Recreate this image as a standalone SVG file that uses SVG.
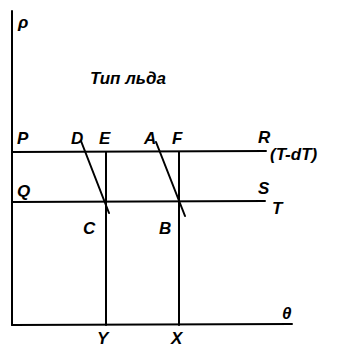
<svg xmlns="http://www.w3.org/2000/svg" width="338" height="347" viewBox="0 0 338 347">
<style>
.ln{stroke:#000;stroke-width:2;fill:none;stroke-linecap:round}
.t{font-family:"Liberation Sans",Arial,sans-serif;font-style:italic;font-weight:bold;font-size:17px;fill:#000}
</style>
<rect width="338" height="347" fill="#fff"/>
<g id="connectors">
<line class="ln" x1="12" y1="11" x2="12" y2="325"/>
<line class="ln" x1="12" y1="325" x2="292" y2="324"/>
<line class="ln" x1="12" y1="152" x2="266" y2="151"/>
<line class="ln" x1="12" y1="202" x2="265" y2="201"/>
<line class="ln" x1="106" y1="152" x2="106" y2="325"/>
<line class="ln" x1="179" y1="152" x2="179" y2="325"/>
<line class="ln" x1="81" y1="141" x2="109" y2="213"/>
<line class="ln" x1="156" y1="142" x2="185" y2="216"/>
</g>
<g id="labels">
<text class="t" x="18" y="28">ρ</text>
<text class="t" x="90" y="84" font-size="15">Тип льда</text>
<text class="t" x="17" y="144">P</text>
<text class="t" x="71" y="144">D</text>
<text class="t" x="99" y="144">E</text>
<text class="t" x="144" y="144">A</text>
<text class="t" x="172" y="144">F</text>
<text class="t" x="258" y="143">R</text>
<text class="t" x="270" y="160">(T-dT)</text>
<text class="t" x="17" y="197">Q</text>
<text class="t" x="258" y="194">S</text>
<text class="t" x="272" y="214">T</text>
<text class="t" x="83" y="234">C</text>
<text class="t" x="159" y="234">B</text>
<text class="t" x="282" y="319">θ</text>
<text class="t" x="97" y="344">Y</text>
<text class="t" x="171" y="344">X</text>
</g>
</svg>
